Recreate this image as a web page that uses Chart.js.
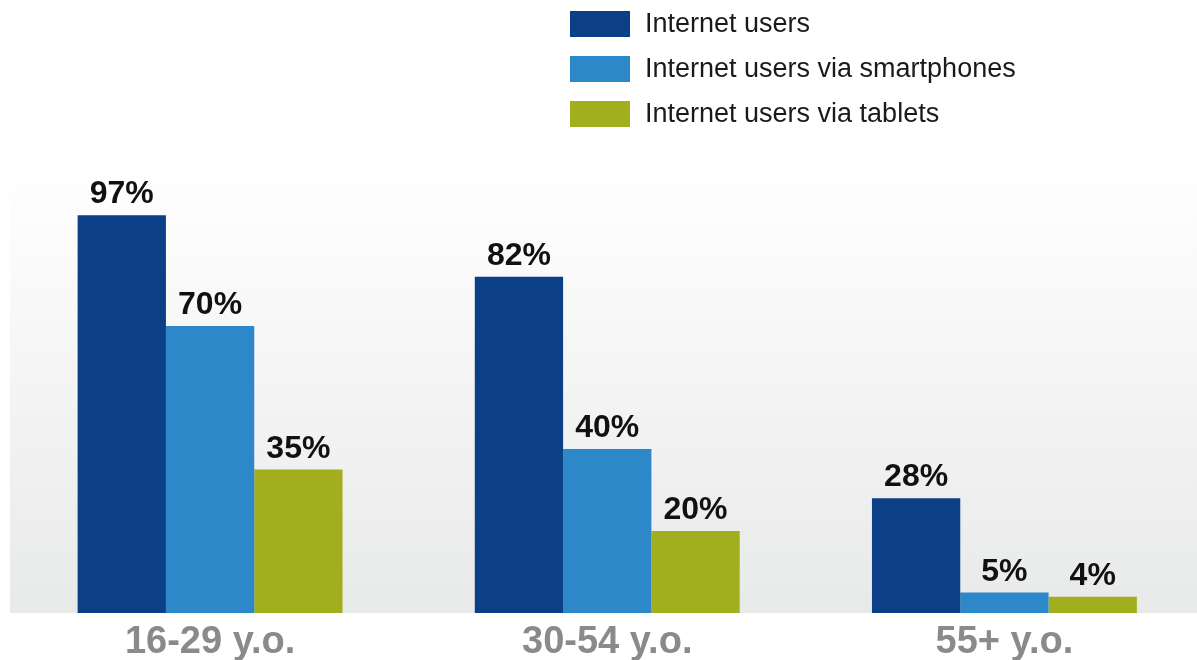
<!DOCTYPE html>
<html>
<head>
<meta charset="utf-8">
<script src="https://cdn.jsdelivr.net/npm/chart.js@4"></script>
<style>
  html, body { margin: 0; padding: 0; background: #fff; overflow: hidden; }
  #wrap { position: relative; width: 1203px; height: 671px; }
</style>
</head>
<body>
<div id="wrap"><canvas id="graficoBarras"></canvas></div>
<script>
const categorias = ['16-29 y.o.', '30-54 y.o.', '55+ y.o.'];
const series = ['Internet users', 'Internet users via smartphones', 'Internet users via tablets'];
const internet = [97, 82, 28];
const smartphones = [70, 40, 5];
const tablets = [35, 20, 4];
const cores = ['#0b3f86', '#2d88c9', '#a3ae1f'];

// fundo em degradê na área do gráfico
const fundo = {
    id: 'fundo',
    beforeDraw(chart) {
        const { ctx, chartArea: a } = chart;
        const g = ctx.createLinearGradient(0, a.top, 0, a.bottom);
        g.addColorStop(0, '#ffffff');
        g.addColorStop(1, '#e8e9e9');
        ctx.save();
        ctx.fillStyle = g;
        ctx.fillRect(a.left - 1.5, a.top, a.right - a.left + 1.5, a.bottom - a.top);
        ctx.restore();
    }
};

// rótulos de valor em cima das barras
const rotulos = {
    id: 'rotulos',
    afterDatasetsDraw(chart) {
        const ctx = chart.ctx;
        ctx.save();
        ctx.font = 'bold 32px "Liberation Sans", Arial, sans-serif';
        ctx.fillStyle = '#111';
        ctx.textAlign = 'center';
        ctx.textBaseline = 'alphabetic';
        chart.data.datasets.forEach((ds, i) => {
            chart.getDatasetMeta(i).data.forEach((bar, j) => {
                ctx.fillText(ds.data[j] + '%', bar.x, bar.y - 12);
            });
        });
        ctx.restore();
    }
};

// legenda vertical no topo
const legenda = {
    id: 'legenda',
    afterDraw(chart) {
        const ctx = chart.ctx;
        ctx.save();
        ctx.font = '27px "Liberation Sans", Arial, sans-serif';
        ctx.textBaseline = 'middle';
        ctx.textAlign = 'left';
        chart.data.datasets.forEach((ds, i) => {
            const y = 24 + i * 45;
            ctx.fillStyle = ds.backgroundColor;
            ctx.fillRect(570, y - 13, 60, 26);
            ctx.fillStyle = '#1a1a1a';
            ctx.fillText(ds.label, 645, y + 1);
        });
        ctx.restore();
    }
};

new Chart(document.getElementById('graficoBarras').getContext('2d'), {
    type: 'bar',
    data: {
        labels: categorias,
        datasets: [
            { label: series[0], data: internet, backgroundColor: cores[0] },
            { label: series[1], data: smartphones, backgroundColor: cores[1] },
            { label: series[2], data: tablets, backgroundColor: cores[2] }
        ]
    },
    options: {
        responsive: true,
        maintainAspectRatio: false,
        animation: false,
        layout: { padding: { left: 11.5, right: 0, top: 166, bottom: 0 } },
        datasets: {
            bar: { categoryPercentage: 0.667, barPercentage: 1.0 }
        },
        scales: {
            y: {
                display: false,
                beginAtZero: true,
                min: 0,
                max: 109
            },
            x: {
                grid: { display: false, drawTicks: false },
                border: { display: false },
                ticks: {
                    padding: 9,
                    color: '#8a8a8a',
                    font: { family: '"Liberation Sans", Arial, sans-serif', size: 38, weight: 'bold', lineHeight: 1.05 }
                }
            }
        },
        plugins: {
            legend: { display: false },
            tooltip: { enabled: false }
        }
    },
    plugins: [fundo, rotulos, legenda]
});
</script>
</body>
</html>
